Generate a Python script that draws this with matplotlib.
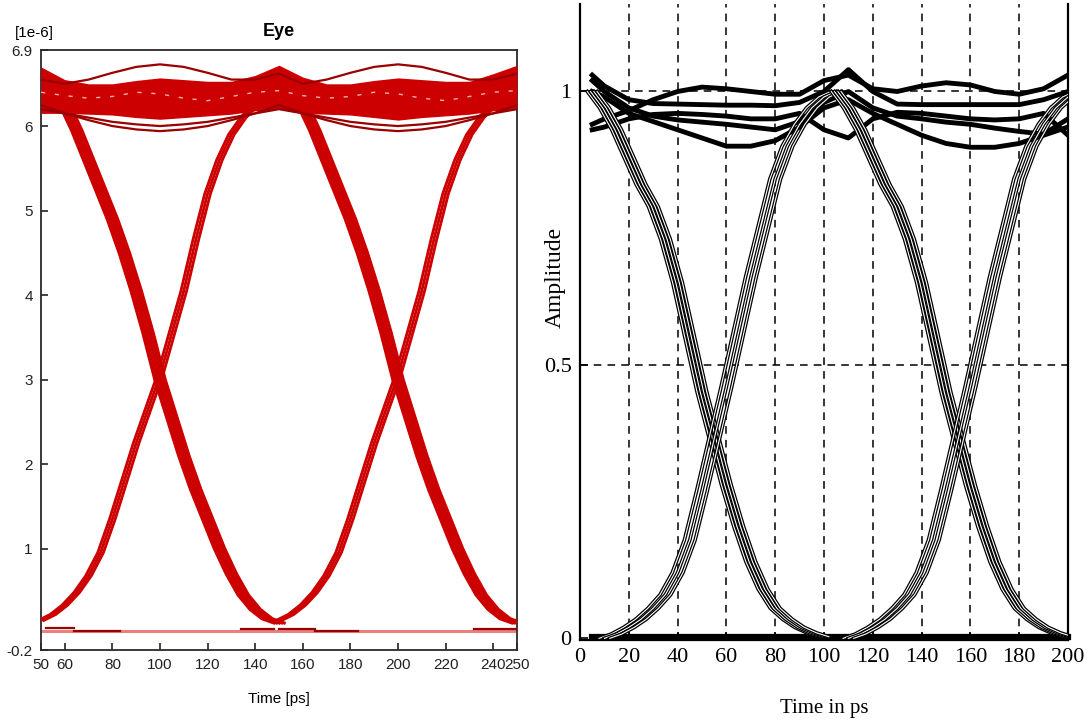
import numpy as np
import matplotlib
matplotlib.use("Agg")
import matplotlib.pyplot as plt

# ---------------- left panel : red eye, amplitude in 1e-6 ----------------
left_bits = [0, 100]                      # the eye repeats every 100 ps
edge_t = [50, 55, 60, 65, 70, 75, 80, 85, 90, 95, 100,
          105, 110, 115, 120, 125, 130, 135, 140, 145, 150]
fall_v = [6.6, 6.5, 6.25, 5.95, 5.6, 5.25, 4.9, 4.5, 4.05, 3.55, 3.0,
          2.55, 2.1, 1.7, 1.35, 1.0, 0.7, 0.45, 0.28, 0.17, 0.12]
rise_v = [0.15, 0.22, 0.33, 0.48, 0.68, 0.95, 1.35, 1.8, 2.25, 2.65, 3.05,
          3.55, 4.05, 4.65, 5.2, 5.6, 5.9, 6.1, 6.25, 6.35, 6.4]
fall_jitter = [-2.2, -1.1, 0.0, 1.1, 2.2]
rise_jitter = [-1.2, 0.0, 1.2]

top_t = [50, 60, 70, 80, 90, 100, 110, 120, 130, 140, 150,
         160, 170, 180, 190, 200, 210, 220, 230, 240, 250]
top_hi = [6.70, 6.55, 6.50, 6.50, 6.54, 6.57, 6.55, 6.53, 6.53, 6.60, 6.72,
          6.58, 6.50, 6.50, 6.54, 6.57, 6.55, 6.53, 6.53, 6.62, 6.72]
top_lo = [6.15, 6.15, 6.14, 6.13, 6.10, 6.08, 6.10, 6.12, 6.14, 6.18, 6.20,
          6.15, 6.14, 6.13, 6.10, 6.07, 6.10, 6.12, 6.14, 6.18, 6.20]
arc_hi = [6.55, 6.50, 6.55, 6.63, 6.70, 6.73, 6.70, 6.63, 6.55, 6.55, 6.62,
          6.50, 6.55, 6.63, 6.70, 6.73, 6.70, 6.63, 6.55, 6.55, 6.62]
arc_lo = [6.25, 6.15, 6.07, 6.00, 5.96, 5.94, 5.96, 6.00, 6.07, 6.15, 6.25,
          6.15, 6.07, 6.00, 5.96, 5.94, 5.96, 6.00, 6.07, 6.15, 6.25]
arc_lo2 = [6.20, 6.15, 6.10, 6.05, 6.02, 6.00, 6.02, 6.05, 6.10, 6.15, 6.20,
           6.15, 6.10, 6.05, 6.02, 6.00, 6.02, 6.05, 6.10, 6.15, 6.20]
streak_v = [6.40, 6.36, 6.33, 6.35, 6.40, 6.38, 6.33, 6.30, 6.35, 6.40, 6.42,
            6.36, 6.33, 6.35, 6.40, 6.38, 6.33, 6.30, 6.35, 6.40, 6.42]

low_floor = 0.02
low_segments = [(52, 64, 0.06), (64, 83, 0.02), (134, 148, 0.05),
                (150, 165, 0.05), (165, 183, 0.02), (232, 250, 0.05)]

left_xticks = [50, 60, 80, 100, 120, 140, 160, 180, 200, 220, 240, 250]
left_yticks = [-0.2, 1, 2, 3, 4, 5, 6, 6.9]
left_ylabels = ["-0.2", "1", "2", "3", "4", "5", "6", "6.9"]

# ---------------- right panel : black eye, normalised amplitude ----------------
right_bits = [0, 100]
fall_t_r = [5, 10, 15, 20, 25, 30, 35, 40, 45, 50,
            55, 60, 65, 70, 75, 80, 85, 90, 95, 100]
fall_r = [1.0, 0.97, 0.93, 0.88, 0.83, 0.79, 0.73, 0.65, 0.55, 0.45,
          0.365, 0.28, 0.205, 0.14, 0.09, 0.055, 0.035, 0.02, 0.01, 0.003]
rise_t_r = [10, 15, 20, 25, 30, 35, 40, 45, 50, 55,
            60, 65, 70, 75, 80, 85, 90, 95, 100, 105]
rise_r = [0.0, 0.008, 0.02, 0.035, 0.055, 0.08, 0.12, 0.18, 0.27, 0.365,
          0.46, 0.56, 0.66, 0.75, 0.84, 0.9, 0.94, 0.97, 0.99, 1.0]
fall_jitter_r = [-2.0, -0.7, 0.7, 2.0]
rise_jitter_r = [-2.2, 0.0, 2.2]

high_t_r = [5, 10, 20, 30, 40, 50, 60, 70, 80, 90, 100,
            110, 120, 130, 140, 150, 160, 170, 180, 190, 200]
high_r = [
    [0.94, 0.95, 0.965, 0.985, 1.0, 1.008, 1.005, 1.0, 0.995, 0.995, 1.02,
     1.03, 1.005, 1.0, 1.01, 1.016, 1.012, 1.0, 0.995, 1.005, 1.03],
    [1.03, 1.01, 0.985, 0.978, 0.977, 0.976, 0.975, 0.975, 0.974, 0.98, 1.0,
     1.04, 1.0, 0.977, 0.976, 0.976, 0.976, 0.976, 0.976, 0.985, 1.0],
    [1.0, 0.99, 0.96, 0.945, 0.93, 0.915, 0.9, 0.9, 0.91, 0.935, 0.97,
     0.985, 0.96, 0.94, 0.92, 0.905, 0.898, 0.898, 0.905, 0.92, 0.935],
    [1.02, 1.0, 0.97, 0.955, 0.948, 0.944, 0.94, 0.935, 0.93, 0.945, 0.98,
     1.0, 0.97, 0.955, 0.95, 0.944, 0.94, 0.933, 0.927, 0.922, 0.95],
    [0.93, 0.935, 0.95, 0.958, 0.96, 0.958, 0.955, 0.95, 0.95, 0.96, 0.93,
     0.915, 0.95, 0.962, 0.96, 0.955, 0.95, 0.948, 0.95, 0.96, 0.92],
]
low_t_r = [5, 200]
low_r = [0.003, 0.003]

right_xticks = [0, 20, 40, 60, 80, 100, 120, 140, 160, 180, 200]
right_yticks = [0, 0.5, 1]
right_ylabels = ["0", "0.5", "1"]

sans = ["Liberation Sans Narrow", "Liberation Sans", "DejaVu Sans"]
serif = ["Liberation Serif", "DejaVu Serif"]

fig = plt.figure(figsize=(10.88, 7.23), dpi=100)
W, H = 1088.0, 723.0

# ======================= left =======================
ax1 = fig.add_axes([41 / W, 1 - 650 / H, (517 - 41) / W, (650 - 50) / H])
red = "#cc0000"
dark = "#9a0000"

ax1.fill_between(top_t, top_lo, top_hi, color=red, lw=0, zorder=3)
for arc in (arc_hi, arc_lo, arc_lo2):
    ax1.plot(top_t, arc, color=dark, lw=1.6, zorder=4)
ax1.plot(top_t, streak_v, color="#f2b0b0", lw=1.0, dashes=(3, 7), zorder=5)

ax1.plot([50, 250], [low_floor, low_floor], color="#e88080", lw=2.2, zorder=2)
for x0, x1, v in low_segments:
    ax1.plot([x0, x1], [v, v], color=dark, lw=1.6, zorder=3)

for shift in left_bits:
    for j in fall_jitter:
        ax1.plot(np.array(edge_t) + shift + j, fall_v, color=red, lw=2.2, zorder=3)
    for j in rise_jitter:
        ax1.plot(np.array(edge_t) + shift + j, rise_v, color=red, lw=2.0, zorder=3)

ax1.set_xlim(50, 250)
ax1.set_ylim(-0.2, 6.9)
ax1.set_xticks(left_xticks)
ax1.set_xticklabels([str(v) for v in left_xticks], family=sans, fontsize=11)
ax1.set_yticks(left_yticks)
ax1.set_yticklabels(left_ylabels, family=sans, fontsize=11)
ax1.set_xticks([60, 80, 100, 120, 140, 160, 180, 200, 220, 240], minor=True)
ax1.set_yticks([1, 2, 3, 4, 5, 6], minor=True)
ax1.grid(True, which="minor", color="#c4c4c4", lw=1.0, zorder=0)
ax1.tick_params(which="major", direction="in", length=5, width=1.2,
                colors="#222222", pad=6)
ax1.tick_params(which="minor", length=0)
for s in ax1.spines.values():
    s.set_color("#2a2a2a")
    s.set_linewidth(1.3)
ax1.set_xlabel("Time [ps]", family=sans, fontsize=11, labelpad=14)
ax1.set_title("Eye", family=sans, fontsize=13, fontweight="bold", pad=10)
fig.text(15 / W, 1 - 33 / H, "[1e-6]", family=sans, fontsize=11, va="center")

# ======================= right =======================
ax2 = fig.add_axes([580 / W, 1 - 640 / H, (1068 - 580) / W, (640 - 4) / H])

for x in right_xticks[1:-1]:
    ax2.axvline(x, color="black", lw=1.1, dashes=(5, 4), zorder=1)
for y in right_yticks[1:]:
    ax2.axhline(y, color="black", lw=1.1, dashes=(5, 4), zorder=1)

for tr in high_r:
    ax2.plot(high_t_r, tr, color="black", lw=3.5, zorder=3)
ax2.plot(low_t_r, low_r, color="black", lw=4.5, zorder=3, clip_on=False)

for shift in right_bits:
    for j in fall_jitter_r:
        ax2.plot(np.array(fall_t_r) + shift + j, fall_r, color="black", lw=2.6, zorder=4)
        ax2.plot(np.array(fall_t_r) + shift + j, fall_r, color="white", lw=0.8, zorder=4)
    for j in rise_jitter_r:
        ax2.plot(np.array(rise_t_r) + shift + j, rise_r, color="black", lw=2.6, zorder=4)
        ax2.plot(np.array(rise_t_r) + shift + j, rise_r, color="white", lw=0.8, zorder=4)

ax2.set_xlim(0, 200)
ax2.set_ylim(-0.003, 1.16)
ax2.set_xticks(right_xticks)
ax2.set_xticklabels([str(v) for v in right_xticks], family=serif, fontsize=16)
ax2.set_yticks(right_yticks)
ax2.set_yticklabels(right_ylabels, family=serif, fontsize=16)
ax2.tick_params(direction="in", length=6, width=1.2, colors="black", pad=6)
ax2.spines["top"].set_visible(False)
for s in ("left", "right", "bottom"):
    ax2.spines[s].set_linewidth(1.6)
ax2.set_xlabel("Time in ps", family=serif, fontsize=15)
ax2.xaxis.set_label_coords(0.5, -0.093)
ax2.set_ylabel("Amplitude", family=serif, fontsize=17)
ax2.yaxis.set_label_coords(-0.03, 0.57)

fig.savefig("out.png", dpi=100, facecolor="white")
